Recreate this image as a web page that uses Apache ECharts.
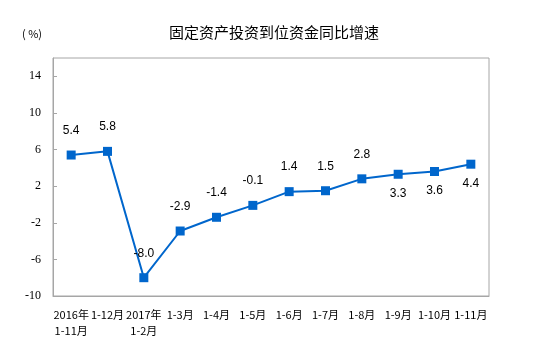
<!DOCTYPE html>
<html><head><meta charset="utf-8">
<script src="https://cdn.jsdelivr.net/npm/echarts@6/dist/echarts.min.js"></script>
<style>html,body{margin:0;padding:0;background:#fff}#c{width:553px;height:362px}</style>
</head><body><div id="c"></div>
<script>
const categories = ['2016年\n1-11月','1-12月','2017年\n1-2月','1-3月','1-4月','1-5月','1-6月','1-7月','1-8月','1-9月','1-10月','1-11月'];
const values = [5.4, 5.8, -8.0, -2.9, -1.4, -0.1, 1.4, 1.5, 2.8, 3.3, 3.6, 4.4];
const labelBelow = [false,false,false,false,false,false,false,false,false,true,true,true];
const yMin = -10, yMax = 16, yInterval = 4;

const chart = echarts.init(document.getElementById('c'));
const data = values.map((v, i) => ({
  value: v,
  label: { position: labelBelow[i] ? 'bottom' : 'top', distance: labelBelow[i] ? 9 : 14 }
}));
chart.setOption({
  animation: false,
  title: {
    text: '固定资产投资到位资金同比增速',
    left: 269, top: 20, textAlign: 'center',
    textStyle: { fontFamily: 'Noto Sans CJK SC', fontSize: 15, fontWeight: 'normal', color: '#000' }
  },
  graphic: [{
    type: 'text', left: 22, top: 28,
    style: { text: '( %)', font: '11px "Noto Sans CJK SC"', fill: '#000' }
  }],
  grid: { left: 53, right: 64, top: 58, bottom: 66, show: true, borderColor: '#a6a6a6', borderWidth: 1 },
  xAxis: {
    type: 'category', data: categories, boundaryGap: true,
    axisLine: { onZero: false, lineStyle: { color: '#a6a6a6' } },
    axisTick: { inside: true, length: 4, lineStyle: { color: '#a6a6a6' } },
    axisLabel: { interval: 0, color: '#000', fontFamily: 'Noto Sans CJK SC', fontSize: 11, lineHeight: 16, margin: 11, align: 'center' }
  },
  yAxis: {
    type: 'value', min: yMin, max: yMax, interval: yInterval,
    axisLine: { show: true, lineStyle: { color: '#a6a6a6' } },
    axisTick: { show: true, inside: true, length: 4, lineStyle: { color: '#a6a6a6' } },
    splitLine: { show: false },
    axisLabel: { color: '#000', fontFamily: 'Liberation Serif', fontSize: 12, margin: 12, showMaxLabel: false }
  },
  series: [{
    type: 'line', data: data,
    symbol: 'rect', symbolSize: 9,
    lineStyle: { color: '#0066cc', width: 2 },
    itemStyle: { color: '#0066cc' },
    label: { show: true, color: '#000', fontFamily: 'Liberation Sans', fontSize: 12,
      formatter: p => p.value.toFixed(1) }
  }]
});
</script></body></html>
